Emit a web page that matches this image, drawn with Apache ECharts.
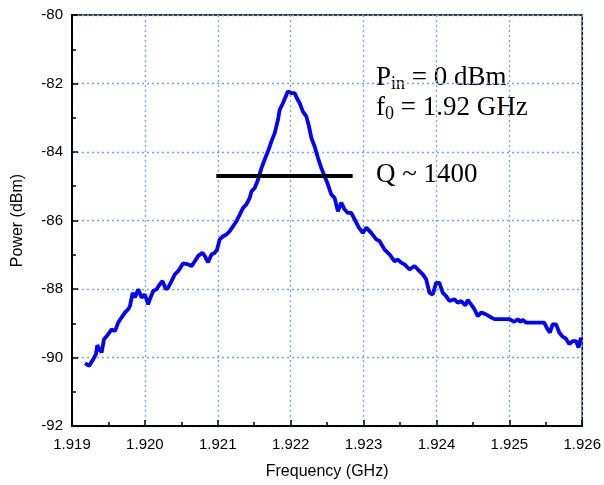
<!DOCTYPE html>
<html><head><meta charset="utf-8">
<script src="https://cdn.jsdelivr.net/npm/echarts@6/dist/echarts.min.js"></script>
<style>html,body{margin:0;padding:0;background:#fff}#c{width:604px;height:485px}</style>
</head><body><div id="c"></div>
<script>
const freq = [1.919178,1.919237,1.919292,1.919329,1.919347,1.919374,1.919407,1.919438,1.919497,1.919544,1.919589,1.919634,1.919681,1.919726,1.919771,1.919795,1.919832,1.919863,1.919908,1.919955,1.920000,1.920045,1.920068,1.920114,1.920160,1.920205,1.920242,1.920288,1.920319,1.920366,1.920411,1.920456,1.920525,1.920593,1.920640,1.920685,1.920730,1.920790,1.920822,1.920867,1.920914,1.920959,1.920990,1.921027,1.921073,1.921119,1.921164,1.921210,1.921256,1.921301,1.921347,1.921393,1.921438,1.921462,1.921507,1.921552,1.921599,1.921644,1.921689,1.921736,1.921781,1.921826,1.921849,1.921895,1.921932,1.921963,1.922010,1.922055,1.922086,1.922123,1.922168,1.922215,1.922251,1.922284,1.922329,1.922374,1.922421,1.922466,1.922511,1.922557,1.922603,1.922648,1.922694,1.922740,1.922785,1.922832,1.922877,1.922936,1.922990,1.923037,1.923105,1.923174,1.923219,1.923288,1.923356,1.923425,1.923470,1.923516,1.923562,1.923630,1.923699,1.923744,1.923812,1.923859,1.923904,1.923949,1.923996,1.924041,1.924086,1.924133,1.924178,1.924247,1.924292,1.924338,1.924397,1.924429,1.924475,1.924521,1.924566,1.924612,1.924658,1.924703,1.924749,1.924795,1.925000,1.925068,1.925114,1.925151,1.925182,1.925229,1.925479,1.925525,1.925558,1.925593,1.925640,1.925685,1.925730,1.925777,1.925822,1.925868,1.925914,1.925949,1.925982];
const power = [-90.17,-90.24,-90.05,-89.90,-89.64,-89.76,-89.85,-89.47,-89.32,-89.18,-89.23,-88.98,-88.83,-88.69,-88.59,-88.50,-88.11,-88.25,-88.01,-88.25,-88.16,-88.45,-88.30,-88.06,-88.01,-87.86,-87.77,-88.01,-87.96,-87.77,-87.57,-87.48,-87.25,-87.28,-87.33,-87.19,-87.04,-86.94,-87.04,-87.22,-86.99,-86.94,-86.85,-86.55,-86.46,-86.41,-86.31,-86.17,-86.02,-85.83,-85.63,-85.53,-85.34,-85.15,-85.05,-84.81,-84.47,-84.22,-83.98,-83.69,-83.45,-83.06,-82.77,-82.57,-82.38,-82.23,-82.28,-82.28,-82.43,-82.57,-82.82,-82.96,-83.25,-83.59,-83.84,-84.17,-84.47,-84.71,-84.95,-85.24,-85.34,-85.73,-85.48,-85.68,-85.78,-85.78,-85.97,-86.21,-86.36,-86.21,-86.36,-86.55,-86.60,-86.85,-86.99,-87.19,-87.14,-87.23,-87.28,-87.43,-87.33,-87.43,-87.57,-87.72,-88.11,-88.16,-87.82,-87.82,-88.11,-88.21,-88.35,-88.30,-88.40,-88.35,-88.48,-88.32,-88.45,-88.59,-88.79,-88.69,-88.72,-88.77,-88.83,-88.88,-88.88,-88.96,-88.88,-88.96,-88.90,-88.98,-88.98,-89.18,-89.27,-89.03,-89.03,-89.27,-89.39,-89.45,-89.61,-89.52,-89.52,-89.71,-89.42];
const qLineFreq = [1.92098, 1.92285];
const qLinePower = [-84.7, -84.7];
const xTicks = {min: 1.919, max: 1.926, step: 0.001};
const yTicks = {min: -92, max: -80, step: 2};
const labels = ['P', 'in', ' = 0 dBm', 'f', '0', ' = 1.92 GHz', 'Q ~ 1400'];

const chart = echarts.init(document.getElementById('c'));
const grid = {left: 72, right: 21, top: 15, bottom: 58};
const serif = '"Liberation Serif","Times New Roman",serif';
const sans = '"Liberation Sans",Arial,sans-serif';
const gridLine = {show: true, lineStyle: {color: '#6ea6f5', type: [2, 3], width: 1.3}};
const rich = {a: {fontFamily: serif, fontSize: 27, fill: '#000'}, s: {fontFamily: serif, fontSize: 18, fill: '#000', padding: [14, 0, 0, 0]}};
chart.setOption({
  animation: false,
  grid: Object.assign({show: true, borderColor: '#000', borderWidth: 1.5, backgroundColor: 'transparent'}, grid),
  xAxis: {
    type: 'value', min: xTicks.min, max: xTicks.max, interval: xTicks.step,
    name: 'Frequency (GHz)', nameLocation: 'middle', nameGap: 38,
    nameTextStyle: {fontFamily: sans, fontSize: 16, color: '#000'},
    axisLine: {lineStyle: {color: '#000', width: 2}},
    axisTick: {inside: true, length: 6, lineStyle: {color: '#000', width: 1.5}},
    minorTick: {show: true, splitNumber: 2, length: 4, lineStyle: {color: '#000', width: 1.5}},
    axisLabel: {fontFamily: sans, fontSize: 15, color: '#000', margin: 11, formatter: v => v.toFixed(3)},
    splitLine: gridLine
  },
  yAxis: {
    type: 'value', min: yTicks.min, max: yTicks.max, interval: yTicks.step,
    name: 'Power (dBm)', nameLocation: 'middle', nameGap: 46,
    nameTextStyle: {fontFamily: sans, fontSize: 16, color: '#000'},
    axisLine: {show: true, lineStyle: {color: '#000', width: 2}},
    axisTick: {show: true, inside: true, length: 6, lineStyle: {color: '#000', width: 1.5}},
    minorTick: {show: true, splitNumber: 2, length: 4, lineStyle: {color: '#000', width: 1.5}},
    axisLabel: {fontFamily: sans, fontSize: 15, color: '#000', margin: 9},
    splitLine: gridLine
  },
  series: [
    {type: 'line', data: freq.map((f, i) => [f, power[i]]), showSymbol: false, symbol: 'none',
     lineStyle: {color: '#0000ff', width: 3.8}, z: 3},
    {type: 'line', data: qLineFreq.map((f, i) => [f, qLinePower[i]]), showSymbol: false, symbol: 'none',
     lineStyle: {color: '#000', width: 4}, z: 4}
  ],
  graphic: [
    {type: 'text', left: 376, top: 64, style: {
      text: '{a|' + labels[0] + '}{s|' + labels[1] + '}{a|' + labels[2] + '}', rich: rich}},
    {type: 'text', left: 376, top: 94, style: {
      text: '{a|' + labels[3] + '}{s|' + labels[4] + '}{a|' + labels[5] + '}', rich: rich}},
    {type: 'text', left: 376, top: 161, style: {text: labels[6], fontFamily: serif, fontSize: 27, fill: '#000'}}
  ]
});
</script></body></html>
